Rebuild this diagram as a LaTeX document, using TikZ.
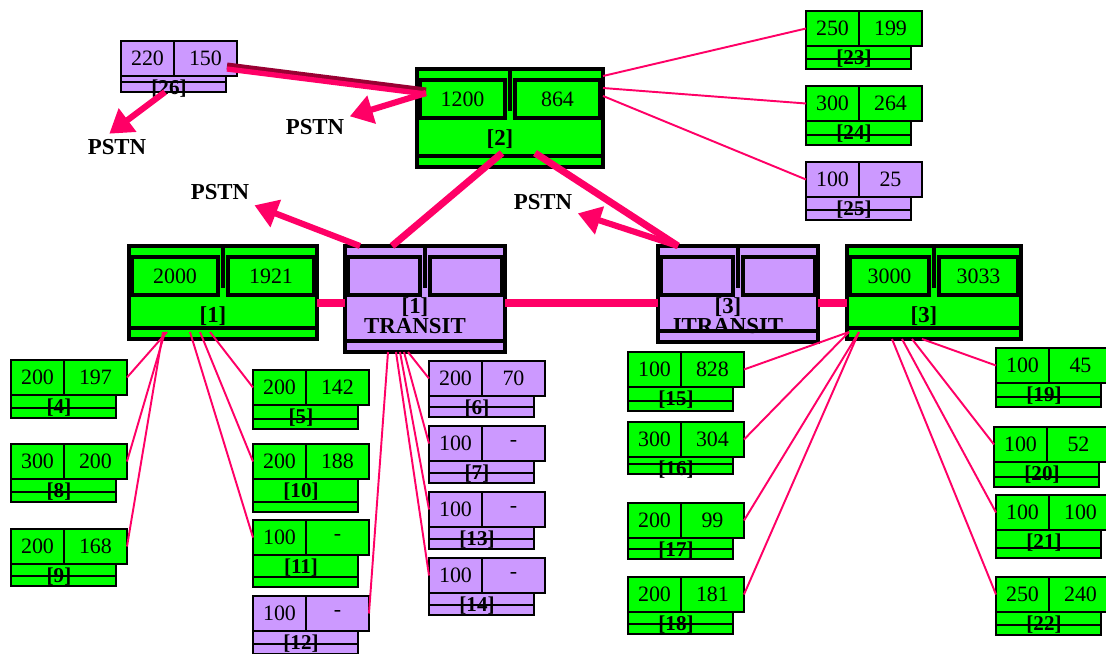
\documentclass[tikz,border=0pt]{standalone}
\usepackage{fontspec}
\setmainfont{Liberation Serif}
\usetikzlibrary{arrows.meta,calc}
\usepackage{xcolor}
\definecolor{netgreen}{HTML}{00FF00}
\definecolor{netlilac}{HTML}{CC99FF}
\definecolor{netpink}{HTML}{FF0066}
\definecolor{netdark}{HTML}{990033}

\begin{document}
\begin{tikzpicture}[x=0.02cm,y=-0.02cm,>={Triangle[width=16pt,length=13pt]},
	cell/.style={draw,line width=1.5pt,inner sep=0pt,outer sep=0pt,anchor=north west,minimum height=0.7cm,font=\fontsize{12.5}{13}\selectfont},
	foot/.style={draw,line width=1.5pt,inner sep=0pt,outer sep=0pt,anchor=north west,minimum width=2.1cm},
	tag/.style={inner sep=0pt,font=\bfseries\fontsize{12}{12}\selectfont},
	hub/.style={draw,line width=1.8pt,inner sep=0pt,outer sep=0pt,anchor=north west},
	hubcell/.style={hub,minimum height=0.76cm,font=\fontsize{12.5}{13}\selectfont},
	hubtag/.style={align=center,inner sep=0pt,font=\bfseries\fontsize{13}{11.5}\selectfont},
	pstn/.style={inner sep=3pt,font=\bfseries\fontsize{13}{13}\selectfont},
	wire/.style={netpink,line width=1.1pt},
	trunk/.style={netpink,line width=4pt},
	feed/.style={netpink,line width=3.5pt,->}]
	\useasboundingbox (0,0) rectangle (1106,653);

	\foreach \n/\x/\y/\va/\vb/\col/\fh in {
			4/11/360/200/197/netgreen/23,
			8/11/444/300/200/netgreen/23,
			9/11/529/200/168/netgreen/22,
			5/253/370/200/142/netgreen/24,
			10/253/444/200/188/netgreen/33,
			11/253/520/100/-/netgreen/32,
			12/253/596/100/-/netlilac/23,
			6/429/361/200/70/netlilac/21,
			7/429/426/100/-/netlilac/22,
			13/429/492/100/-/netlilac/22,
			14/429/558/100/-/netlilac/22,
			15/628/352/100/828/netgreen/24,
			16/628/422/300/304/netgreen/17,
			17/628/503/200/99/netgreen/21,
			18/628/577/200/181/netgreen/22,
			19/996/348/100/45/netgreen/24,
			20/994/427/100/52/netgreen/25,
			21/996/495/100/100/netgreen/28,
			22/996/577/250/240/netgreen/23,
			23/806/11/250/199/netgreen/23,
			24/806/86/300/264/netgreen/24,
			25/806/162/100/25/netlilac/23,
			26/121/41/220/150/netlilac/16}
		{
		\node[cell,fill=\col,minimum width=1.06cm] (l\n) at (\x,\y) {\va};
		\node[cell,fill=\col,minimum width=1.26cm] (r\n) at (l\n.north east) {\vb};
		\node[foot,fill=\col,minimum height=\fh*0.02cm] (f\n) at (l\n.south west) {};
		\draw[line width=1.5pt] (\x,\y+\fh+25) -- (\x+105,\y+\fh+25);
		\node[tag] (t\n) at (\x+48,\y+48) {[\n]};
	};

	\foreach \n/\x/\y/\ww/\hh/\col/\va/\vb/\lab in {
			hub2/417/69/186/98/netgreen/1200/864/{[2]},
			hub1/129/246/188/93/netgreen/2000/1921/{[1]},
			tr1/345/246/160/106/netlilac/{}/{}/{[1]\\TRANSIT},
			tr3/658/246/160/96/netlilac/{}/{}/{[3]\\ITRANSIT},
			hub3/847/246/174/93/netgreen/3000/3033/{[3]}}
		{
		\node[hub,fill=\col,minimum width=\ww*0.02cm,minimum height=\hh*0.02cm] (\n) at (\x,\y) {};
		\node[hubcell,fill=\col,minimum width=(\ww/2-8)*0.02cm] (\n-l) at (\x+3,\y+11) {\va};
		\node[hubcell,fill=\col,minimum width=(\ww/2-8)*0.02cm] (\n-r) at (\x+\ww/2+5,\y+11) {\vb};
		\draw[line width=1.8pt] (\x+\ww/2,\y) -- (\x+\ww/2,\y+42);
		\draw[line width=1.8pt] (\x,\y+\hh-11) -- (\x+\ww,\y+\hh-11);
		\node[hubtag] (\n-t) at (\x+\ww/2-10,\y+70) {\lab};
	};

	\node[pstn] (pstn26) at (117,147) {PSTN};
	\node[pstn] (pstn2) at (315,127) {PSTN};
	\node[pstn] (pstn1) at (220,192) {PSTN};
	\node[pstn] (pstn3) at (543,202) {PSTN};

	\draw[trunk] ($(hub2.south west)+(85,-14)$) -- ($(tr1.north west)+(47,0)$);
	\draw[trunk] ($(hub2.south west)+(118,-14)$) -- ($(tr3.north west)+(20,0)$);
	\foreach \s/\e in {hub1/tr1, tr1/tr3, tr3/hub3}
		\draw[trunk] ($(\s.north east)+(0,57)$) -- ($(\e.north west)+(0,57)$);
	\draw[trunk,netdark] ($(r26.south east)+(-10,-10)$) -- ($(hub2-l.west)+(6,-8)$);
	\draw[trunk,line width=3pt] ($(r26.south east)+(-10,-7)$) -- ($(hub2-l.west)+(6,-5)$);

	\draw[feed] ($(f26.south west)+(44,0)$) -- (pstn26.120);
	\draw[feed] ($(hub2-l.west)+(6,-6)$) -- (pstn2);
	\draw[feed] ($(tr1.north west)+(15,0)$) -- (pstn1);
	\draw[feed] ($(tr3.north west)+(20,0)$) -- (pstn3);

	\foreach \o/\d in {7/23, 19/24, 27/25}
		\draw[wire] ($(hub2.north east)+(0,\o)$) -- (l\d.west);
	\foreach \o/\d in {38/4, 36/8, 34/9}
		\draw[wire] ($(hub1.south west)+(\o,-7)$) -- (r\d.east);
	\foreach \o/\d in {81/5, 71/10, 61/11}
		\draw[wire] ($(hub1.south west)+(\o,-7)$) -- (l\d.west);
	\foreach \o/\d in {63/6, 59/7, 55/13, 51/14}
		\draw[wire] ($(tr1.south west)+(\o,0)$) -- (l\d.west);
	\draw[wire] ($(tr1.south west)+(43,0)$) -- (r12.east);
	\foreach \o/\d in {2/15, 2/16, 12/17, 12/18}
		\draw[wire] ($(hub3.south west)+(\o,-7)$) -- (r\d.east);
	\foreach \o/\d in {75/19, 65/20, 55/21, 45/22}
		\draw[wire] ($(hub3.south west)+(\o,0)$) -- (l\d.west);
\end{tikzpicture}
\end{document}
